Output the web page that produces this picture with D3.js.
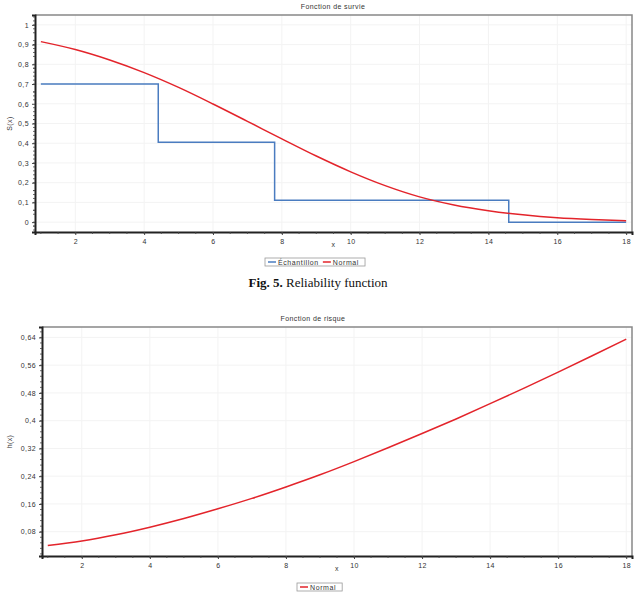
<!DOCTYPE html>
<html>
<head>
<meta charset="utf-8">
<script src="https://cdn.jsdelivr.net/npm/d3@7"></script>
<style>
  body { margin: 0; background: #fff; }
  text { font-family: "Liberation Sans", Arial, sans-serif; fill: #333; letter-spacing: 0.4px; }
  .caption { font-family: "Liberation Serif", "Times New Roman", serif; fill: #111; letter-spacing: 0; }
</style>
</head>
<body>
<svg id="fig" width="640" height="598"></svg>
<script>
// x values where the curves were read
const xValues = [1, 2, 3, 4, 5, 6, 7, 8, 9, 10, 11, 12, 13, 14, 15, 16, 17, 18];
// normal survival function S(x)
const survieNormal = [0.915, 0.875, 0.822, 0.758, 0.683, 0.599, 0.511, 0.422, 0.335, 0.255,
                      0.185, 0.128, 0.087, 0.058, 0.037, 0.022, 0.013, 0.007];
// empirical (sample) survival, step function
const echantX = [1, 4.41, 7.79, 14.59, 18];
const echantY = [0.7, 0.405, 0.111, 0, 0];
// normal hazard function h(x)
const risqueNormal = [0.040, 0.053, 0.071, 0.093, 0.118, 0.146, 0.176, 0.209, 0.244, 0.282,
                      0.322, 0.363, 0.405, 0.449, 0.494, 0.540, 0.587, 0.635];

const xTicks = [2, 4, 6, 8, 10, 12, 14, 16, 18];
const survieTicks = [0, 0.1, 0.2, 0.3, 0.4, 0.5, 0.6, 0.7, 0.8, 0.9, 1];
const risqueTicks = [0.08, 0.16, 0.24, 0.32, 0.4, 0.48, 0.56, 0.64];

const fr = d3.formatLocale({decimal: ",", thousands: " ", grouping: [3], currency: ["", " €"]});
const fmt = fr.format("~g");

const blue = "#4a7cc0", red = "#e3242b";
const svg = d3.select("#fig");

function drawPanel(o) {
  const g = svg.append("g");
  const x = d3.scaleLinear().domain(o.xDomain).range([o.left, o.right]);
  const y = d3.scaleLinear().domain(o.yDomain).range([o.bottom, o.top]);

  // faint grid
  g.selectAll(".gx").data(xTicks).enter().append("line")
    .attr("x1", d => x(d)).attr("x2", d => x(d))
    .attr("y1", o.top).attr("y2", o.bottom)
    .attr("stroke", "#f3f3f3").attr("stroke-width", 1);
  g.selectAll(".gy").data(o.yTicks).enter().append("line")
    .attr("x1", o.left).attr("x2", o.right)
    .attr("y1", d => y(d)).attr("y2", d => y(d))
    .attr("stroke", "#f3f3f3").attr("stroke-width", 1);

  // top and right border
  g.append("path")
    .attr("d", `M${o.left},${o.top}H${o.right}V${o.bottom}`)
    .attr("fill", "none").attr("stroke", "#888").attr("stroke-width", 1.5);

  // x axis
  const xAxis = d3.axisBottom(x).tickValues(xTicks).tickSize(3).tickFormat(d => d);
  const ax = g.append("g").attr("transform", `translate(0,${o.bottom})`).call(xAxis);
  ax.select(".domain").attr("stroke", "#222").attr("stroke-width", 2);
  ax.selectAll("text").attr("font-size", 7).attr("dy", "0.9em").attr("fill", "#333")
    .style("font-family", "Liberation Sans, Arial, sans-serif");
  ax.selectAll(".tick line").attr("stroke", "#444");
  const minorX = d3.range(Math.ceil(o.xDomain[0] * 2) / 2, o.xDomain[1], 0.5);
  g.selectAll(".mx").data(minorX).enter().append("line")
    .attr("x1", d => x(d)).attr("x2", d => x(d))
    .attr("y1", o.bottom).attr("y2", o.bottom + 2)
    .attr("stroke", "#444").attr("stroke-width", 0.8);

  // y axis
  const yAxis = d3.axisLeft(y).tickValues(o.yTicks).tickSize(3).tickFormat(fmt);
  const ay = g.append("g").attr("transform", `translate(${o.left},0)`).call(yAxis);
  ay.select(".domain").attr("stroke", "#222").attr("stroke-width", 2);
  ay.selectAll("text").attr("font-size", 7).attr("fill", "#333")
    .style("font-family", "Liberation Sans, Arial, sans-serif");
  ay.selectAll(".tick line").attr("stroke", "#444");
  const minorY = d3.range(o.yDomain[0], o.yDomain[1], o.yMinor)
    .map(v => Math.round(v / o.yMinor) * o.yMinor).filter(v => v > o.yDomain[0] && v < o.yDomain[1]);
  g.selectAll(".my").data(minorY).enter().append("line")
    .attr("x1", o.left - 2).attr("x2", o.left)
    .attr("y1", d => y(d)).attr("y2", d => y(d))
    .attr("stroke", "#444").attr("stroke-width", 0.8);

  // series
  o.series.forEach(function(s) {
    const line = d3.line().x(d => x(d[0])).y(d => y(d[1])).curve(s.curve);
    g.append("path").datum(d3.zip(s.xs, s.ys))
      .attr("d", line).attr("fill", "none")
      .attr("stroke", s.color).attr("stroke-width", 1.5);
  });

  // titles
  g.append("text").attr("x", o.titleX).attr("y", o.top - 6)
    .attr("text-anchor", "middle").attr("font-size", 7).text(o.title);
  g.append("text").attr("x", (o.left + o.right) / 2).attr("y", o.bottom + 15)
    .attr("text-anchor", "middle").attr("font-size", 7).text("x");
  g.append("text")
    .attr("transform", `translate(12,${(o.top + o.bottom) / 2}) rotate(-90)`)
    .attr("text-anchor", "middle").attr("font-size", 7).text(o.yLabel);

  // legend
  const lg = g.append("g").attr("transform", `translate(${o.legendX},${o.legendY})`);
  const box = lg.append("rect").attr("height", 8).attr("fill", "#fff")
    .attr("stroke", "#999").attr("stroke-width", 0.8);
  let cx = 3;
  o.series.forEach(function(s) {
    lg.append("line").attr("x1", cx).attr("x2", cx + 8).attr("y1", 4).attr("y2", 4)
      .attr("stroke", s.color).attr("stroke-width", 1.5);
    const t = lg.append("text").attr("x", cx + 10).attr("y", 6.5)
      .attr("font-size", 7).style("letter-spacing", "0.6px").text(s.name);
    cx += 10 + t.node().getComputedTextLength() + 4;
  });
  box.attr("width", cx + 2);
}

drawPanel({
  left: 35, right: 632, top: 15, bottom: 232,
  xDomain: [0.83, 18.17], yDomain: [-0.05, 1.05], yTicks: survieTicks, yMinor: 0.02,
  title: "Fonction de survie", titleX: 333, yLabel: "S(x)",
  legendX: 265, legendY: 258,
  series: [
    {name: "Échantillon", xs: echantX, ys: echantY, color: blue, curve: d3.curveStepAfter},
    {name: "Normal", xs: xValues, ys: survieNormal, color: red, curve: d3.curveMonotoneX}
  ]
});

drawPanel({
  left: 42, right: 632, top: 327, bottom: 556,
  xDomain: [0.83, 18.17], yDomain: [0.01, 0.67], yTicks: risqueTicks, yMinor: 0.016,
  title: "Fonction de risque", titleX: 313, yLabel: "h(x)",
  legendX: 297, legendY: 583,
  series: [
    {name: "Normal", xs: xValues, ys: risqueNormal, color: red, curve: d3.curveMonotoneX}
  ]
});

// figure caption
const cap = svg.append("text").attr("class", "caption")
  .attr("x", 318).attr("y", 287).attr("text-anchor", "middle").attr("font-size", 13);
cap.append("tspan").attr("font-weight", "bold").text("Fig. 5.");
cap.append("tspan").text(" Reliability function");
</script>
</body>
</html>
